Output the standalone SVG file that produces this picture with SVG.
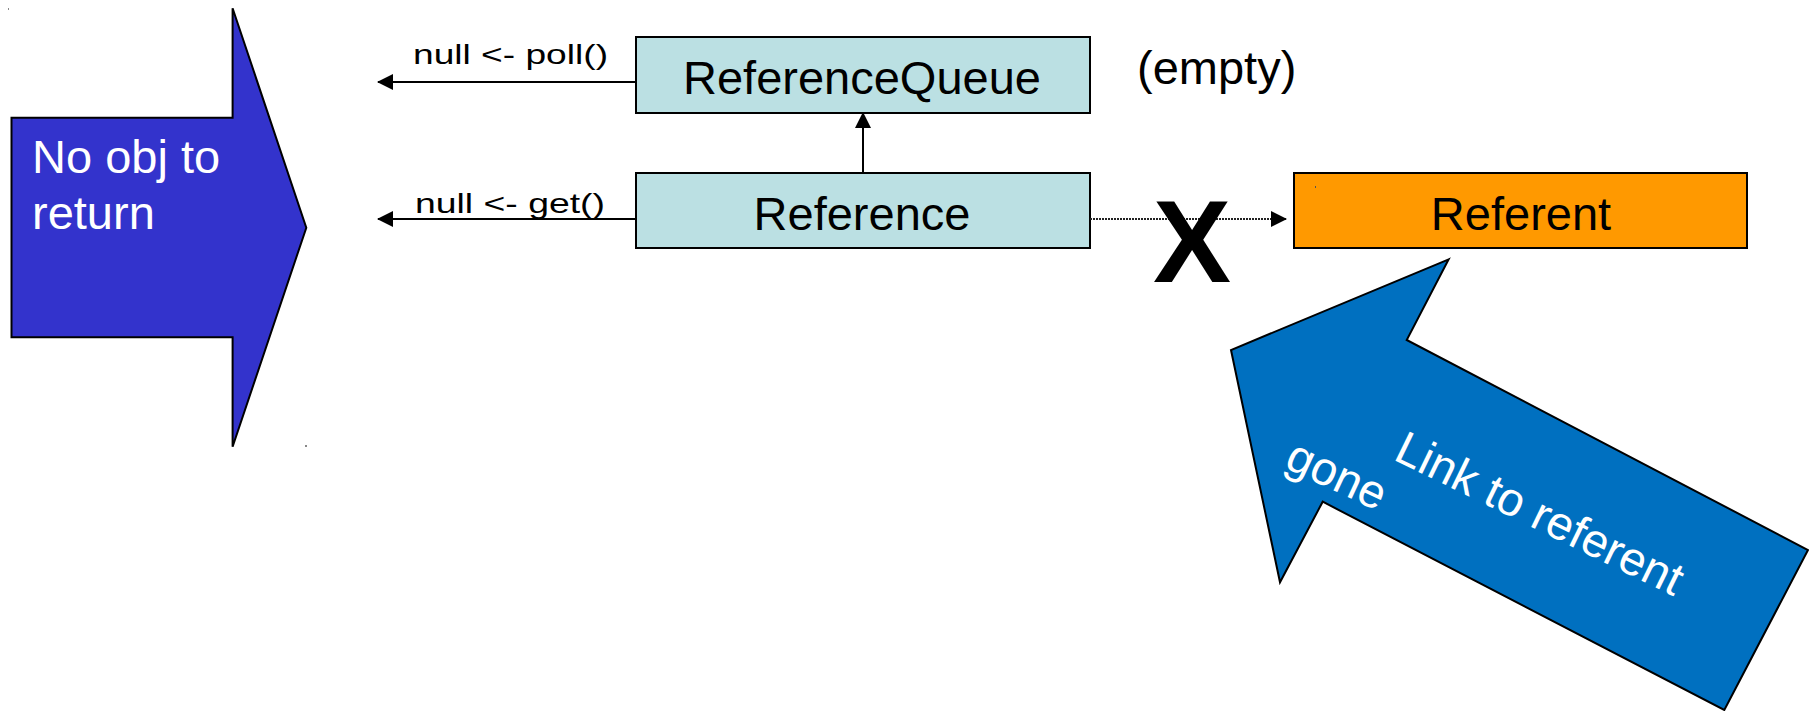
<svg xmlns="http://www.w3.org/2000/svg" width="1809" height="711" viewBox="0 0 1809 711">
<style>
text{font-family:"Liberation Sans",Arial,sans-serif}
.box{stroke:#000;stroke-width:2}
.q{fill:#BBE0E3}
.o{fill:#FF9900}
.big{font-size:47px;fill:#000}
.lbl{font-size:28px;fill:#000}
.w{fill:#fff;font-size:47px}
.ln{stroke:#000;stroke-width:2;fill:none}
</style>
<defs>
<marker id="ah" viewBox="0 0 16 16" refX="15" refY="8" markerWidth="16" markerHeight="16" markerUnits="userSpaceOnUse" orient="auto">
<path d="M0,0 L16,8 L0,16 Z" fill="#000"/>
</marker>
</defs>
<rect width="1809" height="711" fill="#fff"/>
<g id="noobj">
<polygon points="11.5,117.7 232.6,117.7 232.6,8.3 306.3,227.7 232.6,446.7 232.6,337.3 11.5,337.3" fill="#3333CC" stroke="#000" stroke-width="2"/>
<text class="w" x="32" y="173">No obj to</text>
<text class="w" x="32" y="229">return</text>
</g>
<g id="refqueue">
<rect class="box q" x="636" y="37" width="454" height="76"/>
<text class="big" x="862" y="94" text-anchor="middle">ReferenceQueue</text>
</g>
<g id="empty">
<text class="big" x="1137" y="84">(empty)</text>
</g>
<g id="reference">
<rect class="box q" x="636" y="173" width="454" height="75"/>
<text class="big" x="862" y="230" text-anchor="middle">Reference</text>
</g>
<g id="referent">
<rect class="box o" x="1294" y="173" width="453" height="75"/>
<text class="big" x="1521" y="230" text-anchor="middle">Referent</text>
</g>
<g id="connectors">
<line class="ln" x1="636" y1="82" x2="378" y2="82" marker-end="url(#ah)"/>
<line class="ln" x1="636" y1="219" x2="378" y2="219" marker-end="url(#ah)"/>
<line class="ln" x1="863" y1="173" x2="863" y2="113" stroke-width="1.5" marker-end="url(#ah)"/>
<line x1="1090" y1="219" x2="1286" y2="219" stroke="#222" stroke-width="2" stroke-dasharray="2,1" marker-end="url(#ah)"/>
<text class="lbl" x="413" y="64" textLength="195" lengthAdjust="spacingAndGlyphs">null &lt;- poll()</text>
<text class="lbl" x="415" y="213" textLength="190" lengthAdjust="spacingAndGlyphs">null &lt;- get()</text>
</g>
<g id="x">
<text x="1192" y="282" text-anchor="middle" font-size="117" font-weight="bold" fill="#000">X</text>
</g>
<g id="link">
<polygon points="1448.7,259.3 1231,350 1280,582.3 1322.7,501.7 1724.3,710 1808,550 1406.7,340" fill="#0070C0" stroke="#000" stroke-width="2"/>
<text class="w" transform="translate(1392,459) rotate(26)">Link to referent</text>
<text class="w" transform="translate(1283,467) rotate(25)">gone</text>
</g>
<rect x="8" y="8" width="1" height="2" fill="#888"/>
<rect x="305" y="445" width="2" height="2" fill="#888"/>
<rect x="1315" y="186" width="1" height="2" fill="#555"/>
</svg>
